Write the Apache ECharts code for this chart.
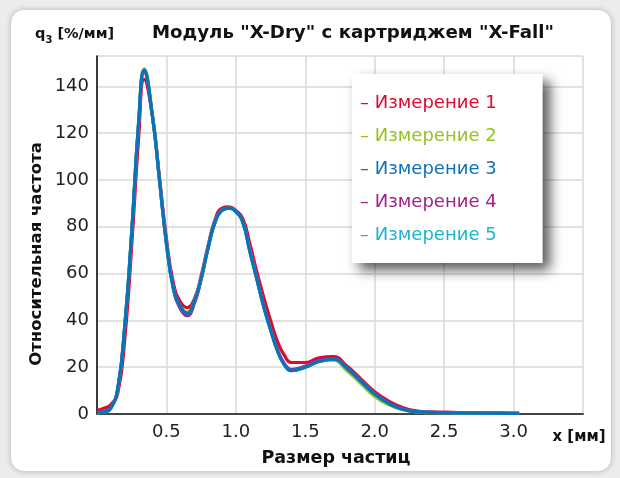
<!DOCTYPE html>
<html>
<head>
<meta charset="utf-8">
<script src="https://cdn.jsdelivr.net/npm/echarts@6/dist/echarts.min.js"></script>
<style>
  html, body { margin: 0; padding: 0; background: #ececec; }
  #card {
    position: absolute; left: 10px; top: 9px; width: 600px; height: 461px;
    background: #fff; border: 1px solid #d2d2d2; border-radius: 14px;
    box-shadow: 0 0 5px rgba(0,0,0,0.18);
  }
  #chart { position: absolute; left: 0; top: 0; width: 620px; height: 478px; }
</style>
</head>
<body>
<div id="card"></div>
<div id="chart"></div>
<script>
// particle size, mm
const sizes = [0, 0.05, 0.1, 0.15, 0.2, 0.25, 0.3, 0.34, 0.4, 0.45, 0.5, 0.55, 0.6, 0.65, 0.7, 0.75, 0.8, 0.85, 0.9, 0.95,
  1.0, 1.05, 1.1, 1.15, 1.2, 1.25, 1.3, 1.35, 1.4, 1.5, 1.6, 1.7, 1.8, 1.9, 2.0, 2.1, 2.2, 2.3, 2.4, 2.6, 2.8, 3.0, 3.04]

// q3 values per measurement, %/mm
const meas1 = [1.5, 2.5, 4, 9, 32, 72, 118, 143, 127, 101, 75, 56, 48, 45.5, 49, 59, 72, 83, 88, 88.5,
  87, 83.5, 73, 61, 50, 40, 31, 25, 22, 22, 24, 24.5, 20.5, 15, 9.5, 5.5, 2.8, 1.3, 0.8, 0.6, 0.4, 0.3, 0.3]
const meas2 = [0.5, 0.8, 2.5, 11, 38, 78, 125, 147.5, 127, 100, 73, 54, 46, 43.5, 48, 58, 71, 82, 87, 88,
  86.5, 82, 70, 58, 46, 36, 27, 21, 19, 20, 22.5, 23, 18.5, 13, 7.5, 4, 1.8, 0.9, 0.6, 0.5, 0.4, 0.3, 0.3]
const meas3 = [0.5, 0.8, 2.5, 11, 38, 78, 125, 147, 127, 100, 73, 54, 46, 43, 48, 58, 71, 82, 87, 88,
  86.5, 82, 69.5, 58, 46, 36, 27, 21, 18.5, 20, 22.5, 23.4, 19.5, 14, 8.5, 4.5, 2, 1, 0.7, 0.5, 0.4, 0.3, 0.3]
const meas4 = [0.8, 1.2, 3, 11, 37, 77, 124, 146, 127, 100, 73, 53.5, 45, 42, 47, 57.5, 71, 82, 87, 88,
  86.5, 82, 70, 58, 46.5, 36.5, 27.5, 21.5, 19, 20.5, 23, 23.5, 20, 14.5, 9, 5, 2.5, 1.2, 0.8, 0.6, 0.4, 0.3, 0.3]
const meas5 = [0.5, 0.8, 2.5, 11, 38, 78, 125, 147, 127, 100, 73, 54, 46, 43, 48, 58, 71, 82, 87, 88,
  86.5, 82, 70, 58, 46, 36, 27, 21, 18.5, 20, 22.5, 23.4, 19.5, 14, 8.5, 4.5, 2, 1, 0.7, 0.5, 0.4, 0.3, 0.3]

const names = ['Измерение 1', 'Измерение 2', 'Измерение 3', 'Измерение 4', 'Измерение 5']
const colors = ['#e5062d', '#97c11f', '#0c72b8', '#a2218c', '#1cb4cf']
const values = [meas1, meas2, meas3, meas4, meas5]
const zOrder = [2, 3, 7, 4, 5]

const font = 'DejaVu Sans, Verdana, sans-serif'
var myChart = echarts.init(document.getElementById('chart'))

myChart.setOption({
  animation: false,
  textStyle: { fontFamily: font },
  graphic: [
    { type: 'text', left: 35, top: 27, style: {
      text: '{a|q}{s|3}{a| [%/мм]}', fill: '#111',
      rich: {
        a: { font: 'bold 14.5px ' + font, verticalAlign: 'bottom', lineHeight: 18 },
        s: { font: 'bold 10px ' + font, verticalAlign: 'bottom', lineHeight: 12, padding: [0, 0, -3, 0] }
      } } },
    { type: 'text', x: 353, y: 33, style: { text: 'Модуль "X-Dry" с картриджем "X-Fall"', font: 'bold 18.2px ' + font, fill: '#111', align: 'center', verticalAlign: 'middle' } },
    { type: 'text', x: 579, y: 437, style: { text: 'x [мм]', font: 'bold 15px ' + font, fill: '#111', align: 'center', verticalAlign: 'middle' } },
    { type: 'text', x: 336, y: 458, style: { text: 'Размер частиц', font: 'bold 17.5px ' + font, fill: '#111', align: 'center', verticalAlign: 'middle' } },
    { type: 'text', x: 37, y: 254, rotation: Math.PI / 2,
      style: { text: 'Относительная частота', font: 'bold 16.5px ' + font, fill: '#111', align: 'center', verticalAlign: 'middle' } }
  ],
  legend: {
    orient: 'vertical',
    left: 352, top: 74,
    icon: 'none',
    itemWidth: 0, itemHeight: 20, itemGap: 13,
    padding: [19, 46, 18, 3],
    backgroundColor: '#fff',
    shadowColor: 'rgba(0,0,0,0.65)', shadowBlur: 12, shadowOffsetX: 7, shadowOffsetY: 7,
    formatter: (n) => '– ' + n,
    data: names.map((n, i) => ({ name: n, textStyle: { color: colors[i] } })),
    textStyle: { fontSize: 18, fontFamily: font, lineHeight: 20 }
  },
  grid: { left: 97, right: 37, top: 56, bottom: 64 },
  xAxis: {
    type: 'value', min: 0, max: 3.5, interval: 0.5,
    axisLine: { lineStyle: { color: '#444', width: 2 } },
    axisTick: { show: false },
    splitLine: { lineStyle: { color: '#d8d8d8', width: 1.5 } },
    axisLabel: {
      fontSize: 18, color: '#222', margin: 9,
      formatter: (v) => (v === 0 || v === 3.5) ? '' : v.toFixed(1)
    }
  },
  yAxis: {
    type: 'value', min: 0, max: 153, interval: 20,
    axisLine: { show: true, lineStyle: { color: '#000', width: 1.5 } },
    axisTick: { show: false },
    splitLine: { lineStyle: { color: '#d8d8d8', width: 1.5 } },
    axisLabel: { fontSize: 18, color: '#222', margin: 8, showMaxLabel: false }
  },
  series: names.map((n, i) => ({
    name: n,
    type: 'line',
    smooth: 0.5,
    showSymbol: false,
    z: zOrder[i],
    color: colors[i],
    lineStyle: { width: 3.2, color: colors[i] },
    data: sizes.map((x, k) => [x, values[i][k]])
  }))
})
</script>
</body>
</html>
